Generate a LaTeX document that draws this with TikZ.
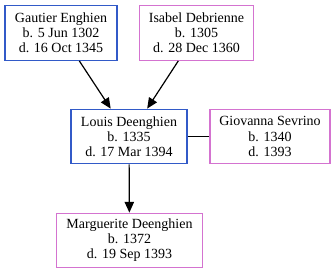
\documentclass[tikz,border=0pt]{standalone}
\usepackage{fontspec}
\setmainfont{Liberation Serif}
\usepackage{tikz}
\usetikzlibrary{arrows.meta}

\definecolor{male}{RGB}{50,90,200}
\definecolor{female}{RGB}{212,115,208}

\tikzset{
    person/.style={rectangle, align=center, line width=0.85pt, minimum height=41pt, inner sep=2pt,
        font=\fontsize{10.5}{11.3}\selectfont},
    man/.style={person, draw=male},
    woman/.style={person, draw=female},
    parent/.style={-{Triangle[length=8pt,width=7pt]}, line width=0.9pt}
}

\begin{document}
\begin{tikzpicture}[x=0.75pt, y=-0.75pt]
        \useasboundingbox (0,0) rectangle (336,274);
        \node(gautier) at (61,33) [man, minimum width=84pt] {Gautier Enghien\\b. 5 Jun 1302\\d. 16 Oct 1345};
        \node(isabel) at (196.5,33) [woman, minimum width=85pt] {Isabel Debrienne\\b. 1305\\d. 28 Dec 1360};
        \node(louis) at (129,136.5) [man, minimum width=87pt] {Louis Deenghien\\b. 1335\\d. 17 Mar 1394};
        \node(giovanna) at (270,136.5) [woman, minimum width=90pt] {Giovanna Sevrino\\b. 1340\\d. 1393};
        \node(marguerite) at (129.5,240.5) [woman, minimum width=109pt] {Marguerite Deenghien\\b. 1372\\d. 19 Sep 1393};
        \draw [parent] (gautier) -- (louis);
        \draw [parent] (isabel) -- (louis);
        \draw [line width=0.9pt] (louis) -- (giovanna);
        \draw [parent] (louis) -- (marguerite);
    \end{tikzpicture}
\end{document}
